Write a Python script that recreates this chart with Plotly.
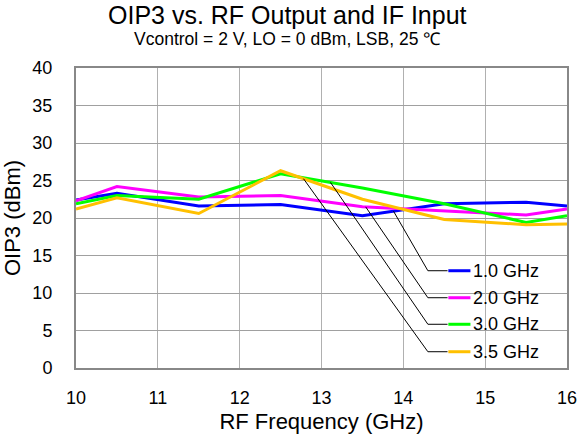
import numpy as np
import plotly.graph_objects as go

FREQ = [10, 10.5, 11.5, 12.5, 13.5, 14.5, 15.5, 16]

OIP3_1G0 = [22.4, 23.3, 21.6, 21.8, 20.3, 21.9, 22.1, 21.6]
OIP3_2G0 = [22.3, 24.2, 22.8, 23.0, 21.5, 21.0, 20.4, 21.2]
OIP3_3G0 = [21.9, 23.0, 22.5, 25.9, 24.0, 21.9, 19.4, 20.3]
OIP3_3G5 = [21.2, 22.7, 20.6, 26.3, 22.5, 19.8, 19.1, 19.2]

NAMES = ["1.0 GHz", "2.0 GHz", "3.0 GHz", "3.5 GHz"]
COLORS = ["#0000ff", "#ff00ff", "#00ff00", "#ffc000"]

# where each leader line touches its curve, and where its label sits
LEADER_X = [13.88, 13.54, 13.11, 12.78]
LABEL_Y = [12.97, 9.37, 5.83, 2.17]

FONT = "Liberation Sans, Arial, sans-serif"

series = [OIP3_1G0, OIP3_2G0, OIP3_3G0, OIP3_3G5]

fig = go.Figure()

for name, vals, col in zip(NAMES, series, COLORS):
    fig.add_trace(go.Scatter(
        x=FREQ, y=vals, mode="lines", name=name,
        line=dict(color=col, width=3),
        showlegend=False,
    ))

# hand-drawn style legend with leader lines
for name, vals, col, lx, ly in zip(NAMES, series, COLORS, LEADER_X, LABEL_Y):
    y0 = float(np.interp(lx, FREQ, vals))
    fig.add_trace(go.Scatter(
        x=[lx, 14.30, 14.54], y=[y0, ly, ly], mode="lines",
        line=dict(color="black", width=1),
        showlegend=False, hoverinfo="skip",
    ))
    fig.add_trace(go.Scatter(
        x=[14.55, 14.82], y=[ly, ly], mode="lines",
        line=dict(color=col, width=3),
        showlegend=False, hoverinfo="skip",
    ))
    fig.add_annotation(
        x=14.83, y=ly, text=name, showarrow=False,
        xanchor="left", yanchor="middle",
        font=dict(size=18, color="black", family=FONT),
    )

fig.add_annotation(
    x=0.43, y=1.177, xref="paper", yref="paper",
    text="OIP3 vs. RF Output and IF Input", showarrow=False,
    xanchor="center", yanchor="middle",
    font=dict(size=25, color="black", family=FONT),
)
fig.add_annotation(
    x=0.43, y=1.098, xref="paper", yref="paper",
    text="Vcontrol = 2 V, LO = 0 dBm, LSB, 25 ℃", showarrow=False,
    xanchor="center", yanchor="middle",
    font=dict(size=17.5, color="black", family=FONT),
)

fig.update_layout(
    width=582, height=439,
    margin=dict(l=76, r=15, t=68, b=71),
    plot_bgcolor="white", paper_bgcolor="white",
    font=dict(family=FONT, size=18, color="black"),
    showlegend=False,
    xaxis=dict(
        range=[10, 16], dtick=1, automargin=False,
        title=dict(text="RF Frequency (GHz)", standoff=7),
        showgrid=True, gridcolor="#b0b0b0", gridwidth=1,
        showline=True, linecolor="#888888", linewidth=2, mirror=True,
        ticks="outside", ticklen=12, tickcolor="rgba(0,0,0,0)",
        zeroline=False,
    ),
    yaxis=dict(
        range=[0, 40], dtick=5, automargin=False,
        title=dict(text="OIP3 (dBm)", standoff=13),
        showgrid=True, gridcolor="#a0a0a0", gridwidth=1,
        showline=True, linecolor="#888888", linewidth=2, mirror=True,
        ticks="outside", ticklen=18, tickcolor="rgba(0,0,0,0)",
        zeroline=False,
    ),
)

fig.write_html(
    "out.html",
    config={"displayModeBar": False},
    post_script="document.body.style.margin='0';",
)
